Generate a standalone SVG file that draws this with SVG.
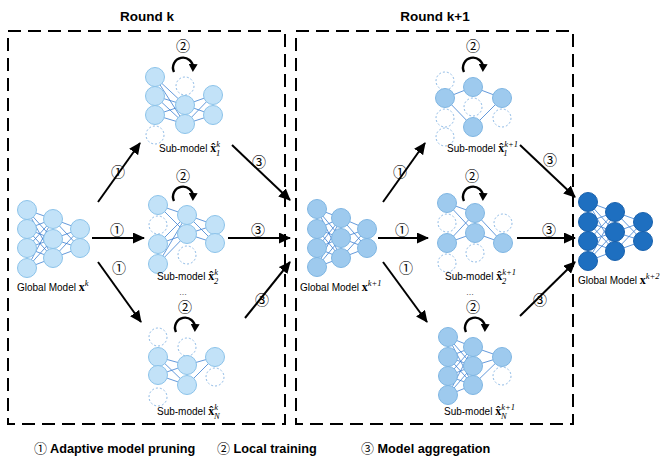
<svg xmlns="http://www.w3.org/2000/svg" width="660" height="460" viewBox="0 0 660 460">
  <defs>
    <marker id="head" markerUnits="userSpaceOnUse" markerWidth="13" markerHeight="11" refX="11" refY="5.5" orient="auto">
      <path d="M0,0 L12,5.5 L0,11 z" fill="#000"/>
    </marker>
    <marker id="loophead" markerUnits="userSpaceOnUse" markerWidth="9" markerHeight="9" refX="4" refY="4.5" orient="auto">
      <path d="M0,0 L8,4.5 L0,9 z" fill="#000"/>
    </marker>
  </defs>
  <style>
    .frame { fill: none; stroke: #000; stroke-width: 2; stroke-dasharray: 13 7; }
    .title { font-family: "Liberation Sans", Arial, sans-serif; font-weight: bold; font-size: 13.5px; fill: #000; }
    .lbl { font-family: "Liberation Sans", Arial, sans-serif; font-size: 10px; fill: #000; }
    .dots { font-family: "Liberation Sans", Arial, sans-serif; font-size: 8px; fill: #000; }
    .math { font-family: "Liberation Serif", "Times New Roman", serif; font-weight: bold; font-size: 12px; }
    .sup { font-family: "Liberation Serif", "Times New Roman", serif; font-style: italic; font-size: 8.5px; }
    .num { font-family: "Noto Sans CJK SC", "DejaVu Sans", sans-serif; font-size: 14px; font-weight: normal; fill: #000; }
    .legend { font-family: "Liberation Sans", Arial, sans-serif; font-weight: bold; font-size: 12.7px; fill: #000; }
    .legend .num { font-size: 13px; }
    .edge { stroke: #3c7fd0; stroke-width: 0.8; fill: none; }
    .n1 { fill: #c2e2f8; stroke: #8cc3ea; stroke-width: 1; }
    .n2 { fill: #9ecaee; stroke: #7fb6e3; stroke-width: 1; }
    .n3 { fill: #1e6fc0; stroke: #1a62ad; stroke-width: 1; }
    .ghost { fill: none; stroke: #8fbbe6; stroke-width: 1; stroke-dasharray: 2 2; }
    .arrow { stroke: #000; stroke-width: 2; fill: none; marker-end: url(#head); }
    .loop { stroke: #000; stroke-width: 2.4; fill: none; marker-end: url(#loophead); }
  </style>

  <!-- round frames -->
  <rect class="frame" x="8" y="31" width="277" height="393"/>
  <rect class="frame" x="296" y="31" width="277" height="393"/>
  <text class="title" x="147" y="21" text-anchor="middle">Round k</text>
  <text class="title" x="435" y="21" text-anchor="middle">Round k+1</text>

  <!-- global model, round k -->
  <g id="global-k">
    <g class="edge">
      <path d="M27,210 L53,219 M27,210 L53,239 M27,210 L53,258 M27,229 L53,219 M27,229 L53,239 M27,229 L53,258 M27,248 L53,219 M27,248 L53,239 M27,248 L53,258 M27,268 L53,219 M27,268 L53,239 M27,268 L53,258"/>
      <path d="M53,219 L80,229 M53,219 L80,248 M53,239 L80,229 M53,239 L80,248 M53,258 L80,229 M53,258 L80,248"/>
    </g>
    <circle class="n1" cx="27" cy="210" r="9.5"/><circle class="n1" cx="27" cy="229" r="9.5"/>
    <circle class="n1" cx="27" cy="248" r="9.5"/><circle class="n1" cx="27" cy="268" r="9.5"/>
    <circle class="n1" cx="53" cy="219" r="9.5"/><circle class="n1" cx="53" cy="239" r="9.5"/>
    <circle class="n1" cx="53" cy="258" r="9.5"/>
    <circle class="n1" cx="80" cy="229" r="9.5"/><circle class="n1" cx="80" cy="248" r="9.5"/>
    <text class="lbl" x="17" y="291">Global Model <tspan class="math">x</tspan><tspan class="sup" dy="-5">k</tspan></text>
  </g>

  <!-- sub-model 1, round k -->
  <g id="sub-k-1">
    <text class="num" x="183" y="51" text-anchor="middle">②</text>
    <path class="loop" d="M174,72 A10,10 0 1 1 193,68"/>
    <g class="edge">
      <path d="M155,77 L185,105 M155,77 L185,124 M155,96 L185,105 M155,96 L185,124 M155,115 L185,105 M155,115 L185,124"/>
      <path d="M185,105 L213,95 M185,105 L213,115 M185,124 L213,95 M185,124 L213,115"/>
    </g>
    <circle class="n1" cx="155" cy="77" r="9.5"/><circle class="n1" cx="155" cy="96" r="9.5"/>
    <circle class="n1" cx="155" cy="115" r="9.5"/><circle class="ghost" cx="155" cy="135" r="9"/>
    <circle class="ghost" cx="185" cy="86" r="9"/><circle class="n1" cx="185" cy="105" r="9.5"/>
    <circle class="n1" cx="185" cy="124" r="9.5"/>
    <circle class="n1" cx="213" cy="95" r="9.5"/><circle class="n1" cx="213" cy="115" r="9.5"/>
    <text class="lbl" x="159" y="152">Sub-model <tspan class="math">x̂</tspan><tspan class="sup" dy="-5">k</tspan><tspan class="sup" dx="-4" dy="9">1</tspan></text>
  </g>

  <!-- sub-model 2, round k -->
  <g id="sub-k-2">
    <text class="num" x="183" y="181" text-anchor="middle">②</text>
    <path class="loop" d="M174,201 A10,10 0 1 1 193,197"/>
    <g class="edge">
      <path d="M158,205 L187,215 M158,205 L187,234 M158,244 L187,215 M158,244 L187,234 M158,264 L187,215 M158,264 L187,234"/>
      <path d="M187,215 L215,225 M187,215 L215,243 M187,234 L215,225 M187,234 L215,243"/>
    </g>
    <circle class="n1" cx="158" cy="205" r="9.5"/><circle class="ghost" cx="158" cy="225" r="9"/>
    <circle class="n1" cx="158" cy="244" r="9.5"/><circle class="n1" cx="158" cy="264" r="9.5"/>
    <circle class="n1" cx="187" cy="215" r="9.5"/><circle class="n1" cx="187" cy="234" r="9.5"/>
    <circle class="ghost" cx="187" cy="255" r="9"/>
    <circle class="n1" cx="215" cy="225" r="9.5"/><circle class="n1" cx="215" cy="243" r="9.5"/>
    <text class="lbl" x="157" y="280">Sub-model <tspan class="math">x̂</tspan><tspan class="sup" dy="-5">k</tspan><tspan class="sup" dx="-4" dy="9">2</tspan></text>
    <text class="dots" x="183" y="295" text-anchor="middle">…</text>
  </g>

  <!-- sub-model N, round k -->
  <g id="sub-k-n">
    <text class="num" x="185" y="312" text-anchor="middle">②</text>
    <path class="loop" d="M176,332 A10,10 0 1 1 195,328"/>
    <g class="edge">
      <path d="M158,357 L187,365 M158,357 L187,385 M158,375 L187,365 M158,375 L187,385"/>
      <path d="M187,365 L215,357 M187,385 L215,357"/>
    </g>
    <circle class="ghost" cx="158" cy="337" r="9"/><circle class="n1" cx="158" cy="357" r="9.5"/>
    <circle class="n1" cx="158" cy="375" r="9.5"/><circle class="ghost" cx="158" cy="397" r="9"/>
    <circle class="ghost" cx="187" cy="347" r="9"/><circle class="n1" cx="187" cy="365" r="9.5"/>
    <circle class="n1" cx="187" cy="385" r="9.5"/>
    <circle class="n1" cx="215" cy="357" r="9.5"/><circle class="ghost" cx="215" cy="377" r="9"/>
    <text class="lbl" x="157" y="415">Sub-model <tspan class="math">x̂</tspan><tspan class="sup" dy="-5">k</tspan><tspan class="sup" dx="-4" dy="9">N</tspan></text>
  </g>

  <!-- global model, round k+1 -->
  <g id="global-k1">
    <g class="edge">
      <path d="M317,209 L341,218 M317,209 L341,238 M317,209 L341,258 M317,229 L341,218 M317,229 L341,238 M317,229 L341,258 M317,248 L341,218 M317,248 L341,238 M317,248 L341,258 M317,267 L341,218 M317,267 L341,238 M317,267 L341,258"/>
      <path d="M341,218 L367,229 M341,218 L367,248 M341,238 L367,229 M341,238 L367,248 M341,258 L367,229 M341,258 L367,248"/>
    </g>
    <circle class="n2" cx="317" cy="209" r="9.5"/><circle class="n2" cx="317" cy="229" r="9.5"/>
    <circle class="n2" cx="317" cy="248" r="9.5"/><circle class="n2" cx="317" cy="267" r="9.5"/>
    <circle class="n2" cx="341" cy="218" r="9.5"/><circle class="n2" cx="341" cy="238" r="9.5"/>
    <circle class="n2" cx="341" cy="258" r="9.5"/>
    <circle class="n2" cx="367" cy="229" r="9.5"/><circle class="n2" cx="367" cy="248" r="9.5"/>
    <text class="lbl" x="300" y="291">Global Model <tspan class="math">x</tspan><tspan class="sup" dy="-5">k+1</tspan></text>
  </g>

  <!-- sub-model 1, round k+1 -->
  <g id="sub-k1-1">
    <text class="num" x="473" y="51" text-anchor="middle">②</text>
    <path class="loop" d="M464,72 A10,10 0 1 1 483,68"/>
    <g class="edge">
      <path d="M445,98 L473,87 M445,98 L473,127 M473,87 L502,98 M473,127 L502,98"/>
    </g>
    <circle class="ghost" cx="445" cy="81" r="9"/><circle class="n2" cx="445" cy="98" r="9.5"/>
    <circle class="ghost" cx="445" cy="118" r="9"/><circle class="ghost" cx="445" cy="137" r="9"/>
    <circle class="n2" cx="473" cy="87" r="9.5"/><circle class="ghost" cx="473" cy="107" r="9"/>
    <circle class="n2" cx="473" cy="127" r="9.5"/>
    <circle class="n2" cx="502" cy="98" r="9.5"/><circle class="ghost" cx="502" cy="118" r="9"/>
    <text class="lbl" x="447" y="152">Sub-model <tspan class="math">x̂</tspan><tspan class="sup" dy="-5">k+1</tspan><tspan class="sup" dx="-14" dy="9">1</tspan></text>
  </g>

  <!-- sub-model 2, round k+1 -->
  <g id="sub-k1-2">
    <text class="num" x="472" y="181" text-anchor="middle">②</text>
    <path class="loop" d="M464,201 A10,10 0 1 1 483,197"/>
    <g class="edge">
      <path d="M447,203 L475,213 M447,203 L475,233 M447,243 L475,213 M447,243 L475,233"/>
      <path d="M475,213 L503,243 M475,233 L503,243"/>
    </g>
    <circle class="n2" cx="447" cy="203" r="9.5"/><circle class="ghost" cx="447" cy="223" r="9"/>
    <circle class="n2" cx="447" cy="243" r="9.5"/><circle class="ghost" cx="447" cy="263" r="9"/>
    <circle class="n2" cx="475" cy="213" r="9.5"/><circle class="n2" cx="475" cy="233" r="9.5"/>
    <circle class="ghost" cx="475" cy="253" r="9"/>
    <circle class="ghost" cx="503" cy="223" r="9"/><circle class="n2" cx="503" cy="243" r="9.5"/>
    <text class="lbl" x="445" y="280">Sub-model <tspan class="math">x̂</tspan><tspan class="sup" dy="-5">k+1</tspan><tspan class="sup" dx="-14" dy="9">2</tspan></text>
    <text class="dots" x="470" y="295" text-anchor="middle">…</text>
  </g>

  <!-- sub-model N, round k+1 -->
  <g id="sub-k1-n">
    <text class="num" x="473" y="312" text-anchor="middle">②</text>
    <path class="loop" d="M466,332 A10,10 0 1 1 485,328"/>
    <g class="edge">
      <path d="M448,337 L473,347 M448,337 L473,366 M448,337 L473,385 M448,357 L473,347 M448,357 L473,366 M448,357 L473,385 M448,376 L473,347 M448,376 L473,366 M448,376 L473,385 M448,395 L473,347 M448,395 L473,366 M448,395 L473,385"/>
      <path d="M473,347 L502,357 M473,366 L502,357 M473,385 L502,357"/>
    </g>
    <circle class="n2" cx="448" cy="337" r="9.5"/><circle class="n2" cx="448" cy="357" r="9.5"/>
    <circle class="n2" cx="448" cy="376" r="9.5"/><circle class="n2" cx="448" cy="395" r="9.5"/>
    <circle class="n2" cx="473" cy="347" r="9.5"/><circle class="n2" cx="473" cy="366" r="9.5"/>
    <circle class="n2" cx="473" cy="385" r="9.5"/>
    <circle class="n2" cx="502" cy="357" r="9.5"/><circle class="ghost" cx="502" cy="376" r="9"/>
    <text class="lbl" x="444" y="415">Sub-model <tspan class="math">x̂</tspan><tspan class="sup" dy="-5">k+1</tspan><tspan class="sup" dx="-14" dy="9">N</tspan></text>
  </g>

  <!-- global model after round k+1 -->
  <g id="global-k2">
    <g class="edge">
      <path d="M588,202 L615,212 M588,202 L615,232 M588,202 L615,251 M588,222 L615,212 M588,222 L615,232 M588,222 L615,251 M588,241 L615,212 M588,241 L615,232 M588,241 L615,251 M588,261 L615,212 M588,261 L615,232 M588,261 L615,251"/>
      <path d="M615,212 L643,222 M615,212 L643,241 M615,232 L643,222 M615,232 L643,241 M615,251 L643,222 M615,251 L643,241"/>
    </g>
    <circle class="n3" cx="588" cy="202" r="9.5"/><circle class="n3" cx="588" cy="222" r="9.5"/>
    <circle class="n3" cx="588" cy="241" r="9.5"/><circle class="n3" cx="588" cy="261" r="9.5"/>
    <circle class="n3" cx="615" cy="212" r="9.5"/><circle class="n3" cx="615" cy="232" r="9.5"/>
    <circle class="n3" cx="615" cy="251" r="9.5"/>
    <circle class="n3" cx="643" cy="222" r="9.5"/><circle class="n3" cx="643" cy="241" r="9.5"/>
    <text class="lbl" x="578" y="284">Global Model <tspan class="math">x</tspan><tspan class="sup" dy="-5">k+2</tspan></text>
  </g>

  <!-- connectors -->
  <g id="connectors">
    <line class="arrow" x1="98" y1="202" x2="140" y2="143"/>
    <line class="arrow" x1="92" y1="238" x2="144" y2="238"/>
    <line class="arrow" x1="98" y1="262" x2="141" y2="322"/>
    <line class="arrow" x1="232" y1="145" x2="290" y2="200"/>
    <line class="arrow" x1="228" y1="238" x2="290" y2="238"/>
    <line class="arrow" x1="245" y1="318" x2="290" y2="262"/>
    <line class="arrow" x1="383" y1="202" x2="425" y2="143"/>
    <line class="arrow" x1="378" y1="238" x2="428" y2="238"/>
    <line class="arrow" x1="383" y1="262" x2="427" y2="322"/>
    <line class="arrow" x1="520" y1="145" x2="575" y2="197"/>
    <line class="arrow" x1="517" y1="238" x2="575" y2="238"/>
    <line class="arrow" x1="520" y1="316" x2="575" y2="262"/>
    <text class="num" x="118" y="177" text-anchor="middle">①</text>
    <text class="num" x="117" y="235" text-anchor="middle">①</text>
    <text class="num" x="119" y="273" text-anchor="middle">①</text>
    <text class="num" x="259" y="167" text-anchor="middle">③</text>
    <text class="num" x="258" y="235" text-anchor="middle">③</text>
    <text class="num" x="262" y="305" text-anchor="middle">③</text>
    <text class="num" x="400" y="177" text-anchor="middle">①</text>
    <text class="num" x="402" y="235" text-anchor="middle">①</text>
    <text class="num" x="406" y="273" text-anchor="middle">①</text>
    <text class="num" x="550" y="165" text-anchor="middle">③</text>
    <text class="num" x="549" y="235" text-anchor="middle">③</text>
    <text class="num" x="540" y="305" text-anchor="middle">③</text>
  </g>

  <!-- legend -->
  <g id="legend">
    <text class="legend" x="34" y="453"><tspan class="num">①</tspan> Adaptive model pruning</text>
    <text class="legend" x="217" y="453"><tspan class="num">②</tspan> Local training</text>
    <text class="legend" x="361" y="453"><tspan class="num">③</tspan> Model aggregation</text>
  </g>
</svg>
